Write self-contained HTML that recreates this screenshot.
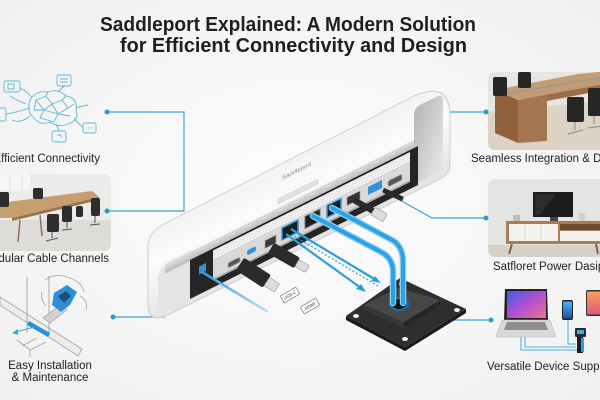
<!DOCTYPE html>
<html><head><meta charset="utf-8"><style>
html,body{margin:0;padding:0;width:600px;height:400px;overflow:hidden;background:#f6f6f6}
svg{display:block}
</style></head><body>
<svg width="600" height="400" viewBox="0 0 600 400" xmlns="http://www.w3.org/2000/svg" font-family="'Liberation Sans', Arial, sans-serif">
<defs>
<radialGradient id="bg" cx="50%" cy="50%" r="75%"><stop offset="0" stop-color="#fdfdfd"/><stop offset="1" stop-color="#efefef"/></radialGradient>
<linearGradient id="shellG" x1="0" y1="153" x2="0" y2="249" gradientUnits="userSpaceOnUse"><stop offset="0" stop-color="#f2f2f2"/><stop offset="0.4" stop-color="#fbfbfb"/><stop offset="1" stop-color="#e3e3e3"/></linearGradient>
<linearGradient id="slabG" x1="0" y1="0" x2="0" y2="1"><stop offset="0" stop-color="#e0e0e0"/><stop offset="1" stop-color="#b9b9b9"/></linearGradient>
<linearGradient id="capG" x1="0" y1="0" x2="1" y2="1"><stop offset="0" stop-color="#b5b5b5"/><stop offset="1" stop-color="#e8e8e8"/></linearGradient>
<linearGradient id="fadeA" x1="202" y1="272" x2="270" y2="313" gradientUnits="userSpaceOnUse"><stop offset="0" stop-color="#2a9fe0"/><stop offset="1" stop-color="#bfe4f5"/></linearGradient>
<linearGradient id="scr" x1="0" y1="0" x2="1" y2="1"><stop offset="0" stop-color="#3c5fe0"/><stop offset="0.5" stop-color="#b24fd0"/><stop offset="1" stop-color="#f07090"/></linearGradient>
<linearGradient id="ph1" x1="0" y1="0" x2="0" y2="1"><stop offset="0" stop-color="#4fb4f5"/><stop offset="1" stop-color="#1d4fa0"/></linearGradient>
<linearGradient id="ph2" x1="0" y1="0" x2="0" y2="1"><stop offset="0" stop-color="#f4a25a"/><stop offset="1" stop-color="#e0567c"/></linearGradient>
<clipPath id="cL"><rect x="-10" y="174" width="121" height="77" rx="7"/></clipPath>
<clipPath id="cR1"><rect x="488" y="72" width="122" height="78" rx="7"/></clipPath>
<clipPath id="cR2"><rect x="488" y="179" width="122" height="78" rx="7"/></clipPath>
</defs>

<rect width="600" height="400" fill="url(#bg)"/>

<!-- Title -->
<text x="100" y="31" font-size="20" font-weight="bold" fill="#1f1f1f" textLength="376" lengthAdjust="spacingAndGlyphs">Saddleport Explained: A Modern Solution</text>
<text x="120" y="52" font-size="20" font-weight="bold" fill="#1f1f1f" textLength="347" lengthAdjust="spacingAndGlyphs">for Efficient Connectivity and Design</text>

<!-- Network icon -->
<g stroke="#5ab9d5" fill="none" stroke-width="0.9">
<rect x="4" y="81" width="16" height="11" rx="2"/><rect x="8" y="84" width="6" height="5"/>
<rect x="57" y="75" width="14" height="11" rx="2"/><path d="M60,79 h8 M60,82 h8"/>
<rect x="-4" y="108" width="10" height="13" rx="2"/>
<rect x="83" y="123" width="13" height="10" rx="2"/><path d="M86,128 h7" stroke-dasharray="1 1.2"/>
<rect x="52" y="131" width="14" height="11" rx="2"/><path d="M57,135 h4 v3"/>
<path d="M30,100 Q36,90 48,92 Q58,88 66,96 Q78,98 76,110 Q80,120 68,124 Q58,128 50,122 Q40,126 34,118 Q26,112 30,100Z"/>
<path d="M36,100 L46,96 L52,104 L44,110 Z M52,104 L62,100 L68,108 L58,114 Z M44,110 L58,114 L54,122 L40,118 Z M58,114 L70,116 M62,100 L66,96 M46,96 L48,92 M36,100 L34,110 L44,110 M68,108 L74,104"/>
<path d="M20,88 Q28,92 32,98 M64,86 Q60,90 58,92 M6,114 Q18,112 30,108 M83,127 Q78,124 74,118 M59,131 Q58,128 56,124 M76,108 Q82,106 88,105 M30,116 Q20,124 12,120 M26,104 Q16,100 10,96"/>
</g>
<text x="100" y="162" text-anchor="end" font-size="11.5" fill="#222">Efficient Connectivity</text>

<!-- Left photo: conference room -->
<g clip-path="url(#cL)">
<rect x="-10" y="174" width="121" height="77" fill="#ebebe9"/>
<rect x="-10" y="174" width="40" height="16" fill="#f6f6f6"/>
<path d="M10,174 v16 M22,174 v16" stroke="#dcdcdc" stroke-width="0.8"/>
<rect x="-10" y="220" width="121" height="31" fill="#dedcd8"/>
<polygon points="0,203 92,191 99,197 12,218 0,218" fill="#c79e70"/>
<polygon points="12,218 99,197 99,200 12,221" fill="#9d7449"/>
<path d="M20,220 L18,242 M40,215 L42,236 M92,199 L94,214" stroke="#8a6a4a" stroke-width="1.4"/>
<g fill="#2e2e2e">
<rect x="33" y="188" width="10" height="11" rx="2"/>
<rect x="-2" y="192" width="11" height="15" rx="2"/>
<rect x="62" y="206" width="10" height="16" rx="2"/>
<rect x="91" y="198" width="9" height="18" rx="2"/>
<rect x="47" y="214" width="12" height="18" rx="2"/>
<rect x="76" y="206" width="7" height="11" rx="2"/>
</g>
<path d="M52,232 v6 M46,241 L58,238 M67,222 v6 M62,230 L72,229 M95,216 v7 M90,225 L100,224" stroke="#555" stroke-width="1"/>
</g>
<text x="109" y="262" text-anchor="end" font-size="11.5" fill="#222">Modular Cable Channels</text>

<!-- Installation illustration -->
<g fill="none" stroke="#a6a6a6" stroke-width="0.9">
<polygon points="0,297 82,349 78,356 0,305" fill="#ececec"/>
<path d="M27,277 V333 M49,276 V336"/>
<path d="M17,340 L30,350 L46,342 M22,346 L37,338 M30,350 L30,357"/>
<path d="M45,280 Q55,272 70,278 Q82,282 84,292 M80,296 Q88,300 86,310 M42,292 Q40,300 46,306"/>
</g>
<polygon points="29,321 50,333 48,337 27,325" fill="#2a8ed2"/>
<polygon points="43,318 60,305 67,310 50,323" fill="#d2d2d2" stroke="#9a9a9a" stroke-width="0.6"/>
<polygon points="54,293 67,285 77,292 70,305 61,312 52,305" fill="#2d8fd5"/>
<polygon points="58,296 66,291 71,296 64,303" fill="#1c4f7a"/>
<path d="M34,327 L16,332" stroke="#39a9d9" stroke-width="1"/>
<polygon points="12,333 18,329 18,335" fill="#39a9d9"/>
<text x="50" y="369" text-anchor="middle" font-size="11.5" fill="#222">Easy Installation</text>
<text x="50" y="381" text-anchor="middle" font-size="11.5" fill="#222">&amp; Maintenance</text>

<!-- Right photo 1 -->
<g clip-path="url(#cR1)">
<rect x="488" y="72" width="122" height="78" fill="#e6e5e2"/>
<polygon points="488,112 610,100 610,150 488,150" fill="#ddd3c5"/>
<polygon points="495,90 518,100 518,143 495,133" fill="#8f623c"/>
<polygon points="518,100 547,94 547,141 518,143" fill="#a57650"/>
<polygon points="547,94 610,82 610,89 547,101" fill="#9c6d46"/>
<polygon points="495,90 578,74 610,71 610,83 518,100" fill="#c29c72"/>
<path d="M506,94 L610,76" stroke="#9a9a9a" stroke-width="1.6"/>
<g fill="#262626">
<rect x="493" y="77" width="14" height="19" rx="2"/>
<rect x="518" y="72" width="13" height="16" rx="2"/>
<rect x="567" y="97" width="17" height="25" rx="2"/>
<rect x="588" y="88" width="14" height="28" rx="2"/>
</g>
<path d="M575,122 v8 M568,134 L583,130 M594,116 v8 M588,128 L602,126" stroke="#888" stroke-width="1"/>
</g>
<text x="471" y="162" font-size="11.5" fill="#222">Seamless Integration &amp; Design</text>

<!-- Right photo 2 -->
<g clip-path="url(#cR2)">
<rect x="488" y="179" width="122" height="78" fill="#e4e4e2"/>
<rect x="488" y="245" width="122" height="12" fill="#d6d0c8"/>
<rect x="533" y="192" width="40" height="25" fill="#1c1c1c"/>
<polygon points="535,194 556,194 540,215 535,215" fill="#2c2c2c"/>
<rect x="550" y="217" width="8" height="4" fill="#444"/>
<rect x="513" y="215" width="7" height="6" fill="#bdbdbd"/>
<rect x="579" y="213" width="6" height="8" fill="#cfcfcf"/>
<rect x="506" y="221" width="100" height="23" fill="#a87c55"/>
<rect x="509" y="224" width="49" height="17" fill="#f3f2ef"/>
<rect x="560" y="224" width="42" height="6" fill="#6b4c33"/>
<rect x="560" y="231" width="42" height="10" fill="#f0efec"/>
<path d="M525,224 v17 M541,224 v17" stroke="#cfcfcf" stroke-width="0.8"/>
<path d="M512,244 L509,254 M596,244 L598,254" stroke="#8a6040" stroke-width="2"/>
</g>
<text x="493" y="270" font-size="11.5" fill="#222">Satfloret Power Dasip</text>

<!-- Devices -->
<polygon points="505,289 547,289 548,320 504,320" fill="#222"/>
<rect x="507" y="291" width="39" height="27" fill="url(#scr)"/>
<polygon points="502,320 550,320 556,337 496,337" fill="#d9d9d9" stroke="#b5b5b5" stroke-width="0.6"/>
<polygon points="507,322 545,322 548,330 504,330" fill="#8d8d8d"/>
<rect x="562" y="300" width="11" height="20" rx="2" fill="#222"/>
<rect x="563" y="301.5" width="9" height="17" rx="1" fill="url(#ph1)"/>
<rect x="586" y="290" width="15" height="26" rx="2" fill="#333"/>
<rect x="587" y="291.5" width="13" height="23" rx="1" fill="url(#ph2)"/>
<g fill="none" stroke="#48b6e3" stroke-width="1.1">
<path d="M521,337 V350 H580 M525,337 V347 H576 M568,320 V344 H576"/>
</g>
<rect x="575" y="328" width="11" height="9" rx="1" fill="#2a2a2a"/>
<rect x="577" y="330" width="7" height="4" fill="#3aaee0"/>
<rect x="577" y="337" width="6" height="16" fill="#1e1e1e"/>
<rect x="581" y="338" width="3" height="14" fill="#2aa0e0"/>
<text x="487" y="370" font-size="11.5" fill="#222">Versatile Device Support</text>

<!-- Connectors -->
<g fill="none" stroke="#3aa5d3" stroke-width="1.2">
<path d="M107,112 H184 V211 H107"/>
<path d="M113,317 H165"/>
<path d="M413,114 Q416,111 421,112 H486"/>
<path d="M398,199 L432,218 H486"/>
<path d="M434,320 H491"/>
</g>
<g fill="#2a9bd0">
<circle cx="107" cy="112" r="2.5"/><circle cx="107" cy="211" r="2.5"/><circle cx="113" cy="317" r="2.5"/>
<circle cx="486" cy="112" r="2.5"/><circle cx="486" cy="218" r="2.5"/><circle cx="491" cy="320" r="2.5"/>
</g>

<!-- Device (skewed local coordinates) -->
<g transform="matrix(1,-0.5,0,1,0,150)">
<path d="M162,156 L410,153 Q450,153 450,192 L450,240 Q450,249 440,249 L170,249 Q148,249 148,228 L148,170 Q148,157 162,156 Z" fill="url(#shellG)" stroke="#cdcdcd" stroke-width="1"/>
<path d="M172,196 L192,196 L192,244 L172,244 Q158,244 158,230 L158,210 Q158,196 172,196Z" fill="#e4e4e4"/>
<rect x="165" y="197" width="250" height="9" fill="url(#slabG)"/>
<rect x="414" y="165" width="29" height="77" rx="6" fill="url(#capG)"/>
<rect x="190" y="205" width="228" height="39" fill="#252525"/>
<rect x="278" y="188" width="40" height="5" rx="1.5" fill="#e2e2e2" stroke="#c4c4c4" stroke-width="0.6"/>
<text x="282" y="171" font-size="6" fill="#8a8a8a">Saddleport</text>
<rect x="213" y="207" width="197" height="10" fill="#ececec"/>
<rect x="213" y="217" width="197" height="19" fill="#d9d9d9"/>
<rect x="213" y="235" width="197" height="2" fill="#b0b0b0"/>
<rect x="199" y="216" width="7" height="8" fill="#2f93da"/>
<rect x="228" y="227" width="12" height="5" rx="2" fill="#555" stroke="#9a9a9a" stroke-width="0.8"/>
<rect x="247" y="224" width="9" height="5" rx="2" fill="#2f93da"/>
<rect x="265" y="223" width="11" height="8" fill="#3a3a3a" stroke="#aaa" stroke-width="0.8"/>
<rect x="282" y="219" width="16" height="12" fill="#1e1e1e" stroke="#2f98de" stroke-width="1.5"/>
<rect x="305" y="219" width="15" height="12" fill="#1e1e1e" stroke="#777" stroke-width="1"/>
<rect x="327" y="219" width="14" height="12" fill="#1e1e1e" stroke="#2f98de" stroke-width="1.5"/>
<rect x="347" y="221" width="13" height="8" fill="#333" stroke="#999" stroke-width="0.6"/>
<rect x="368" y="221" width="14" height="8" fill="#2f93da"/>
<rect x="388" y="225" width="14" height="6" rx="2" fill="#555" stroke="#aaa" stroke-width="0.8"/>
</g>

<!-- Plate -->
<polygon points="346,316 405,347 466,309 466,313 405,351 346,320" fill="#1a1a1a"/>
<polygon points="346,316 400,278 466,309 405,347" fill="#2e2e2e"/>
<polygon points="364,305 404,322 404,328 364,310" fill="#363636"/>
<polygon points="404,322 440,300 440,305 404,328" fill="#262626"/>
<polygon points="364,305 398,288 440,300 404,322" fill="#474747"/>
<g fill="#f0f0f0">
<ellipse cx="356" cy="316" rx="3" ry="2"/><ellipse cx="402" cy="284" rx="3" ry="2"/>
<ellipse cx="457" cy="310" rx="3" ry="2"/><ellipse cx="405" cy="339" rx="3" ry="2"/>
</g>
<ellipse cx="399" cy="304" rx="10" ry="7" fill="#1a6fa8"/>
<ellipse cx="399" cy="304" rx="7" ry="5" fill="#111"/>

<!-- Blue cables -->
<path d="M202,272 L268,312" stroke="url(#fadeA)" stroke-width="2.5" fill="none"/>
<g fill="none" stroke-linecap="round">
<path d="M313,216 L381,252 Q393,258 393,272 L393,303" stroke="#8fd0f0" stroke-width="6.5"/>
<path d="M313,216 L381,252 Q393,258 393,272 L393,303" stroke="#2aa2e6" stroke-width="4"/>
<path d="M332,208 L392,240 Q403,246 403,262 L403,303" stroke="#8fd0f0" stroke-width="6.5"/>
<path d="M332,208 L392,240 Q403,246 403,262 L403,303" stroke="#2aa2e6" stroke-width="4"/>
</g>
<g fill="none" stroke="#2b9ee0">
<path d="M286,234 L361,288" stroke-width="2.2"/>
<path d="M291,229 L376,280" stroke-width="2.2"/>
<path d="M294,236 L378,286" stroke-width="1.2" stroke-dasharray="2 2"/>
</g>
<polygon points="366,292 356,289 361,284" fill="#2b9ee0"/>
<polygon points="381,283 371,281 375,276" fill="#2b9ee0"/>

<!-- Plugs -->
<g transform="translate(240,264) rotate(33)">
<rect x="0" y="-7.5" width="32" height="15" rx="2" fill="#2b2b2b"/>
<rect x="32" y="-5" width="12" height="10" rx="1.5" fill="#dcdcdc" stroke="#999" stroke-width="0.6"/>
</g>
<g transform="translate(271,248) rotate(30)">
<rect x="0" y="-6" width="30" height="12" rx="2" fill="#2b2b2b"/>
<rect x="30" y="-4" width="12" height="8" rx="1.5" fill="#dcdcdc" stroke="#999" stroke-width="0.6"/>
</g>
<g transform="translate(354,200) rotate(30)">
<rect x="0" y="-3" width="22" height="6" fill="#2b2b2b"/>
<rect x="22" y="-4.5" width="14" height="9" rx="1.5" fill="#dcdcdc" stroke="#999" stroke-width="0.6"/>
</g>
<g transform="translate(383,190) rotate(25)">
<rect x="0" y="-2.5" width="22" height="5" rx="1.5" fill="#2b2b2b"/>
</g>

<!-- Small tags -->
<g transform="translate(290,295) rotate(-30)">
<rect x="-9" y="-4" width="18" height="8" rx="1.5" fill="#fff" stroke="#777" stroke-width="0.7"/>
<text x="0" y="1.6" font-size="4.5" text-anchor="middle" fill="#444">USB-C</text>
</g>
<g transform="translate(310,306) rotate(-30)">
<rect x="-9" y="-4" width="18" height="8" rx="1.5" fill="#fff" stroke="#777" stroke-width="0.7"/>
<text x="0" y="1.6" font-size="4.5" text-anchor="middle" fill="#444">HDMI</text>
</g>
</svg>
</body></html>
